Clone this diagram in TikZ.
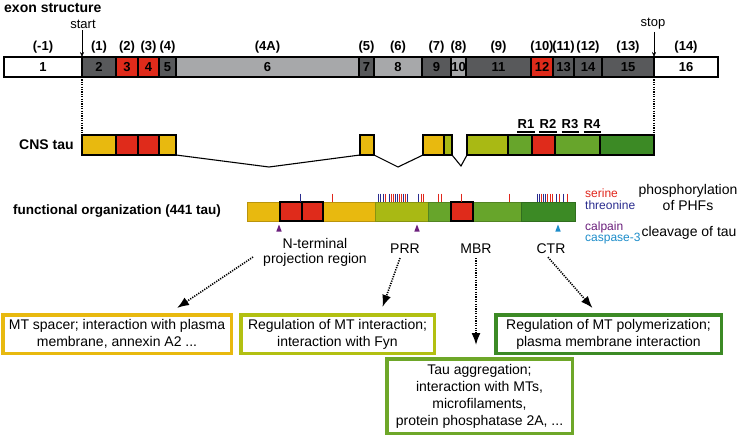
\documentclass[tikz,border=0pt]{standalone}
\usepackage{fontspec}
\setmainfont{Liberation Sans}
\usepackage{tikz}
\usetikzlibrary{arrows.meta,positioning,calc}
\definecolor{exdark}{HTML}{58595B}
\definecolor{exlight}{HTML}{A7A8AA}
\definecolor{taured}{HTML}{DF2B1B}
\definecolor{tauyellow}{HTML}{E8B90F}
\definecolor{tauolive}{HTML}{A9B914}
\definecolor{taugreen}{HTML}{67A52B}
\definecolor{taudark}{HTML}{3C8A25}
\definecolor{serred}{HTML}{E0261C}
\definecolor{thrblue}{HTML}{2A2C8E}
\definecolor{calppurple}{HTML}{6B1F7C}
\definecolor{caspblue}{HTML}{1C8CC9}
\newcommand{\pxfont}[1]{\fontsize{#1}{#1}\selectfont}

\begin{document}
\begin{tikzpicture}[x=1pt,y=-1pt,
    exon/.style={draw,line width=1.6pt,minimum height=20pt,inner sep=0pt,outer sep=0pt,
                 anchor=west,font=\bfseries\pxfont{13}},
    plab/.style={inner sep=0pt,font=\bfseries\pxfont{13}},
    cns/.style={draw,line width=1.3pt,minimum height=20pt,inner sep=0pt,outer sep=0pt,anchor=west},
    fseg/.style={draw=#1!80!black,fill=#1,line width=0.5pt,minimum height=19pt,
                 inner sep=0pt,outer sep=0pt,anchor=west},
    fred/.style={draw,fill=taured,line width=2.2pt,minimum height=19pt,inner sep=0pt,
                 outer sep=0pt,anchor=west},
    fbox/.style={draw=#1,line width=3.5pt,fill=white,align=center,inner sep=2pt,
                 font=\fontsize{14}{17}\selectfont},
    title/.style={font=\bfseries\pxfont{14},inner sep=0pt},
    reg/.style={font=\fontsize{14}{15}\selectfont,align=center,inner sep=1pt},
    leg/.style={anchor=west,inner sep=0pt,font=\pxfont{12}},
    rlab/.style={font=\bfseries\pxfont{13},inner sep=0pt},
    tick/.style={line width=1pt},
    dotline/.style={line width=1.6pt,dash pattern=on 1.2pt off 1.2pt},
    darr/.style={dotline,-{Latex[length=12pt,width=9pt]}},
    vline/.style={line width=1.1pt}]
  \useasboundingbox (0,0) rectangle (738,436);

  % exon structure
  \node[title,anchor=base west] (extitle) at (4,13) {exon structure};
  \foreach \a/\b/\n/\c/\p in {4/82/1/white/-1, 82/116/2/exdark/1, 116/138/3/taured/2,
      138/159/4/taured/3, 159/176/5/exdark/4, 176/359/6/exlight/4A, 359/374/7/exdark/5,
      374/422/8/exlight/6, 422/451/9/exdark/7, 451/466/10/exlight/8, 466/531/11/exdark/9,
      531/553/12/taured/10, 553/574/13/exdark/11, 574/602/14/exdark/12,
      602/654/15/exdark/13, 654/718/16/white/14}{
    \pgfmathsetmacro\w{\b-\a}
    \node[exon,fill=\c,minimum width=\w pt] (e\n) at (\a,67) {\n};
    \node[plab,above=4pt of e\n] (p\n) {(\p)};
  }
  \node[font=\pxfont{13},inner sep=0pt] (start) at (83,24) {start};
  \node[font=\pxfont{13},inner sep=0pt] (stop) at (653,24) {stop};
  \draw[-{Stealth[length=5pt,width=4pt]}] (start.south -| e1.north east) ++(0,2) -- (e1.north east);
  \draw[-{Stealth[length=5pt,width=4pt]}] (stop.south -| e16.north west) ++(0,2) -- (e16.north west);

  % CNS tau
  \node[title,anchor=west] (cnstitle) at (19,145) {CNS tau};
  \foreach \a/\b/\n/\c in {82/116/1/tauyellow, 116/138/2/taured, 138/159/3/taured,
      159/176/4/tauyellow, 360/374/5/tauyellow, 423/444/6/tauyellow, 444/452/7/tauolive,
      467/508/8/tauolive, 508/532/9/taugreen, 532/555/10/taured, 555/600/11/taugreen,
      600/654/12/taudark}{
    \pgfmathsetmacro\w{\b-\a}
    \node[cns,fill=\c,minimum width=\w pt] (c\n) at (\a,145) {};
  }
  \draw[dotline] (e1.south east) -- (c1.north west);
  \draw[dotline] (e16.south west) -- (c12.north east);
  \coordinate (v1) at (269,167);
  \coordinate (v2) at (398,167);
  \coordinate (v3) at (461,166);
  \draw[vline] (c4.south east) -- (v1) -- (c5.south west);
  \draw[vline] (c5.south east) -- (v2) -- (c6.south west);
  \draw[vline] (c7.south east) -- (v3) -- (c8.south west);
  \foreach \x/\n in {526/1,548/2,570/3,592/4}{
    \node[rlab] (r\n) at (\x,124) {R\n};
    \draw[line width=1.8pt] ($(r\n.south west)+(0,3.5)$) -- ($(r\n.south east)+(0,3.5)$);
  }

  % functional organization
  \node[title,anchor=west,font=\bfseries\pxfont{13.5}] (ftitle) at (13,211) {functional organization (441 tau)};
  \foreach \a/\b/\n/\c in {247/375/1/tauyellow, 375/428/2/tauolive, 428/521/3/taugreen,
      521/575/4/taudark}{
    \pgfmathsetmacro\w{\b-\a}
    \node[fseg=\c,minimum width=\w pt] (f\n) at (\a,211.5) {};
  }
  \foreach \a/\b/\n in {280/302/1, 302/323/2, 451/473/3}{
    \pgfmathsetmacro\w{\b-\a}
    \node[fred,minimum width=\w pt] (m\n) at (\a,211.5) {};
  }
  \foreach \t in {332,385,391,393,399,401,405,421,423,438,441,461,509,541,547,550,552,559,567}
    \draw[tick,serred] (\t,193.5) -- (\t,201.5);
  \foreach \t in {300,378,380.5,383,389,395.5,397.5,403,407,418,537,539,543,545,556,563}
    \draw[tick,thrblue] (\t,193.5) -- (\t,201.5);
  \fill[calppurple] (279,224.5) -- (276.3,231.5) -- (281.7,231.5) -- cycle;
  \fill[calppurple] (417,224.5) -- (414.3,231.5) -- (419.7,231.5) -- cycle;
  \fill[caspblue] (558,224.5) -- (555.3,231.5) -- (560.7,231.5) -- cycle;

  % legend
  \node[leg,text=serred] (ser) at (585,193) {serine};
  \node[leg,text=thrblue] (thr) at (585,205) {threonine};
  \node[font=\fontsize{14}{16}\selectfont,align=center,inner sep=0pt] (phos) at (688,197)
       {phosphorylation\\of PHFs};
  \node[leg,text=calppurple] (calp) at (585,227) {calpain};
  \node[leg,text=caspblue] (casp) at (585,238.5) {caspase-3};
  \node[font=\pxfont{14},inner sep=0pt] (cleav) at (689,233) {cleavage of tau};

  % domains and functions
  \node[reg] (nterm) at (315,252) {N-terminal\\projection region};
  \node[reg] (prr) at (405,249) {PRR};
  \node[reg] (mbr) at (476,249) {MBR};
  \node[reg] (ctr) at (551,249) {CTR};

  \node[fbox=tauyellow,minimum width=228.5pt,minimum height=38.5pt] (fna) at (117,334)
       {MT spacer; interaction with plasma\\membrane, annexin A2 ...};
  \node[fbox=tauolive!90!yellow,minimum width=193.5pt,minimum height=38.5pt] (fnb) at (337.5,334)
       {Regulation of MT interaction;\\interaction with Fyn};
  \node[fbox=taudark,minimum width=225.5pt,minimum height=38.5pt] (fnd) at (608.5,334)
       {Regulation of MT polymerization;\\plasma membrane interaction};
  \node[fbox=taugreen!90!tauolive,minimum width=185.5pt,minimum height=74.5pt] (fnc) at (479.5,396)
       {Tau aggregation;\\interaction with MTs,\\microfilaments,\\protein phosphatase 2A, ...};

  \draw[darr] ($(nterm.west)+(-9,5)$) -- ($(fna.north)+(60,-5)$);
  \draw[darr] ($(prr.south)+(-5,3)$) -- ($(fnb.north)+(45,-6)$);
  \draw[darr] ($(mbr.south)+(0,3)$) -- ($(mbr.south |- fnc.north)+(0,-12)$);
  \draw[darr] ($(ctr.south)+(-3,2)$) -- ($(fnd.north)+(-16,-5)$);
\end{tikzpicture}
\end{document}
